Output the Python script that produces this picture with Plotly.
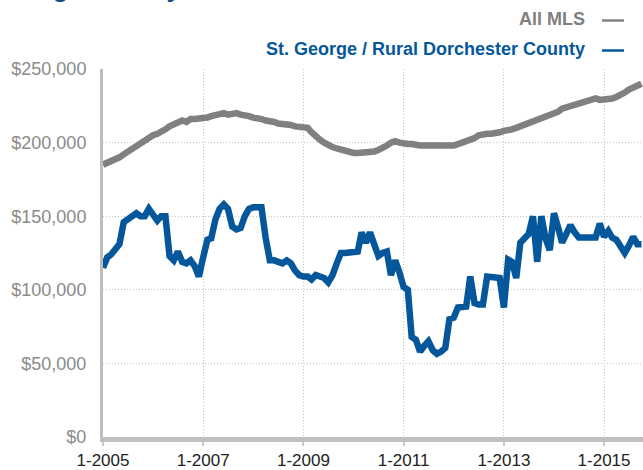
import pandas as pd
import plotly.graph_objects as go

months = pd.date_range("2005-01-01", "2015-10-01", freq="MS")

all_mls = [185, 186, 187, 189, 190, 192, 194, 196, 198, 200, 201, 203, 205, 206, 207, 209,
           211, 212, 214, 215, 214, 216, 216, 216, 217, 217, 218, 219, 220, 220, 219, 220,
           220, 219, 219, 218, 217, 217, 216, 215, 215, 214, 213, 213, 212, 212, 211, 211,
           210, 210, 207, 204, 202, 200, 198, 197, 196, 195, 194, 193, 193, 193, 193, 193,
           193, 194, 195, 196, 198, 200, 201, 200, 199, 199, 199, 198, 198, 198, 198, 197,
           197, 197, 197, 198, 198, 199, 200, 200, 201, 203, 205, 206, 206, 206, 206, 207,
           208, 208, 209, 210, 211, 212, 213, 215, 216, 216, 217, 219, 220, 221, 223, 224,
           225, 226, 227, 228, 229, 230, 230, 229, 229, 229, 230, 231, 232, 234, 236, 237,
           239, 240]

st_george = [115, 122, 124, 128, 131, 146, 148, 150, 152, 150, 150, 155, 151, 147, 150, 150,
             123, 120, 126, 119, 118, 120, 116, 109, 122, 134, 135, 148, 155, 158, 155, 143,
             141, 142, 150, 155, 156, 156, 156, 135, 120, 120, 119, 118, 120, 118, 113, 110,
             109, 109, 107, 110, 109, 108, 105, 110, 118, 125, 125, 125, 125, 126, 139, 132,
             139, 129, 123, 125, 126, 110, 120, 112, 102, 100, 68, 66, 58, 62, 65, 59,
             56.5, 58, 60.6, 80, 81, 88, 88.6, 88.6, 109, 91, 90, 90, 109, 109, 109, 108,
             88, 120.5, 119, 108, 132, 136, 138, 150, 119, 150, 135, 127, 152, 142, 132, 138,
             144, 139, 135.5, 135.5, 135.5, 135.5, 135.5, 145, 136, 140, 135.5, 134, 130, 125,
             130, 136, 131, 131]

series_names = ["All MLS", "St. George / Rural Dorchester County"]
series_colors = ["#808080", "#04579b"]

y_tick_vals = [0, 50000, 100000, 150000, 200000, 250000]
y_tick_text = ["$0", "$50,000", "$100,000", "$150,000", "$200,000", "$250,000"]
x_tick_vals = ["2005-01-01", "2007-01-01", "2009-01-01", "2011-01-01", "2013-01-01", "2015-01-01"]
x_tick_text = ["1-2005", "1-2007", "1-2009", "1-2011", "1-2013", "1-2015"]

title_text = "Single-Family Detached"

fig = go.Figure()
for name, vals, col in zip(series_names, [all_mls, st_george], series_colors):
    fig.add_trace(go.Scatter(
        x=months, y=[v * 1000 for v in vals], mode="lines", name=name,
        line=dict(color=col, width=6.5), showlegend=False, hoverinfo="skip"))

L, R, T, B = 103, 0, 69, 33
W, H = 643, 470
pw, ph = W - L - R, H - T - B

def px_x(p):
    return (p - L) / pw

def px_y(p):
    return (H - B - p) / ph

fig.update_layout(
    width=W, height=H,
    margin=dict(l=L, r=R, t=T, b=B),
    paper_bgcolor="white", plot_bgcolor="white",
    font=dict(family="Liberation Sans, Arial, sans-serif"),
    xaxis=dict(
        type="date", range=["2005-01-01", "2015-10-12"],
        tickvals=x_tick_vals, ticktext=x_tick_text,
        tickfont=dict(size=17, color="#222222"),
        showgrid=True, gridcolor="#c4c4c4", griddash="1px,2px", gridwidth=1,
        showline=True, linecolor="#c0c0c0", linewidth=5,
        ticks="outside", ticklen=4, tickwidth=2, tickcolor="#c8c8c8",
        zeroline=False, fixedrange=True,
    ),
    yaxis=dict(
        range=[0, 250000], tickvals=y_tick_vals, ticktext=y_tick_text,
        tickfont=dict(size=18, color="#8a8a8a"),
        showgrid=True, gridcolor="#c4c4c4", griddash="1px,2px", gridwidth=1,
        showline=True, linecolor="#bdbdbd", linewidth=3,
        ticks="", ticklabelstandoff=10,
        zeroline=False, fixedrange=True,
    ),
)

# legend as annotations
leg_y = [19, 49]
for name, col, yy in zip(series_names, series_colors, leg_y):
    fig.add_annotation(
        x=px_x(587), y=px_y(yy), xref="paper", yref="paper",
        xanchor="right", yanchor="middle", showarrow=False,
        text="<b>%s</b>" % name,
        font=dict(family="Liberation Sans Narrow, Arial Narrow, Liberation Sans, sans-serif",
                  size=18, color=col))
    fig.add_shape(type="line", xref="paper", yref="paper",
                  x0=px_x(602), x1=px_x(624), y0=px_y(yy + 1.5), y1=px_y(yy + 1.5),
                  line=dict(color=col, width=2.5))

fig.add_annotation(
    x=px_x(10), y=px_y(5), xref="paper", yref="paper",
    xanchor="left", yanchor="bottom", showarrow=False,
    text="<b>%s</b>" % title_text,
    font=dict(family="Liberation Sans, Arial, sans-serif", size=26, color="#0d4f8b"))

fig.write_html("out.html", config={"displayModeBar": False},
               post_script="document.body.style.margin='0';")
